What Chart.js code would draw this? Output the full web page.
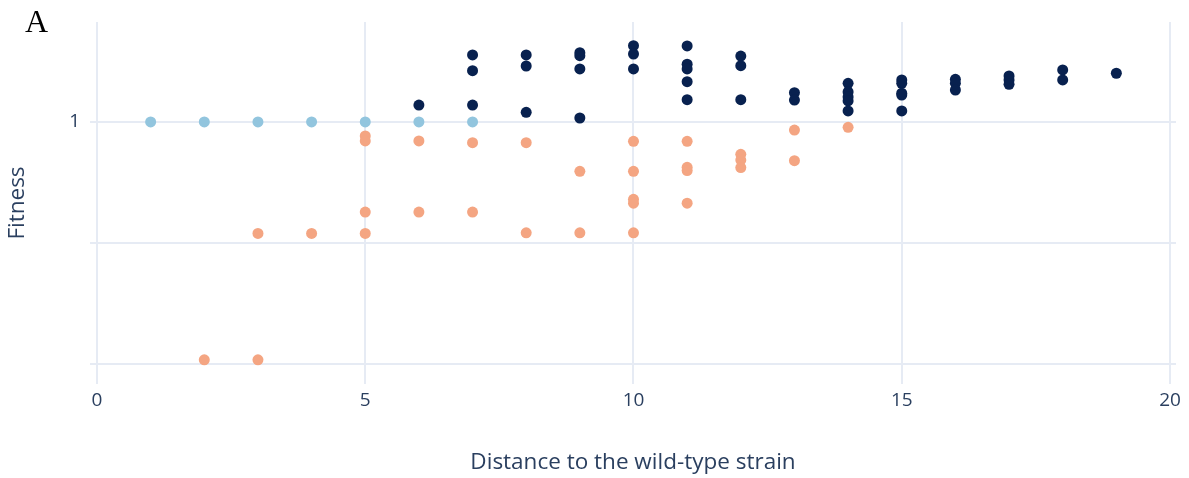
<!DOCTYPE html>
<html>
<head>
<meta charset="utf-8">
<script src="https://cdn.jsdelivr.net/npm/chart.js@4"></script>
<style>
  html, body { margin: 0; padding: 0; background: #fff; }
  #wrap { position: relative; width: 1189px; height: 478px; }
  #panel { position: absolute; left: 25px; top: 5px; font: 32px/32px "Liberation Serif", "DejaVu Serif", serif; color: #000; }
</style>
</head>
<body>
<div id="wrap">
  <canvas id="myChart" width="1189" height="478"></canvas>
  <div id="panel">A</div>
</div>
<script>
const xTicks = [0, 5, 10, 15, 20];
const yTicks = [0.25, 0.5, 1];

// fitness = 1
const neutralX = [1, 2, 3, 4, 5, 6, 7];
const neutralY = [1, 1, 1, 1, 1, 1, 1];

// fitness above 1
const aboveX = [6, 7, 7, 7, 8, 8, 8, 9, 9, 9, 9, 10, 10, 10,
  11, 11, 11, 11, 11, 12, 12, 12, 13, 13, 14, 14, 14, 14, 14,
  15, 15, 15, 15, 15, 16, 16, 16, 17, 17, 17, 18, 18, 19];
const aboveY = [1.102, 1.468, 1.342, 1.102, 1.468, 1.378, 1.057, 1.487, 1.462, 1.355, 1.023, 1.548, 1.476, 1.355,
  1.546, 1.392, 1.355, 1.260, 1.136, 1.459, 1.381, 1.136, 1.183, 1.134, 1.248, 1.188, 1.154, 1.128, 1.065,
  1.272, 1.248, 1.179, 1.167, 1.065, 1.277, 1.248, 1.201, 1.302, 1.272, 1.241, 1.347, 1.272, 1.322];

// fitness below 1
const belowX = [2, 3, 3, 4, 5, 5, 5, 5, 6, 6, 7, 7, 8, 8, 9, 9,
  10, 10, 10, 10, 10, 11, 11, 11, 11, 12, 12, 12, 13, 13, 14];
const belowY = [0.256, 0.528, 0.256, 0.528, 0.923, 0.897, 0.597, 0.528, 0.897, 0.597, 0.888, 0.597, 0.888, 0.530, 0.754, 0.530,
  0.895, 0.754, 0.642, 0.628, 0.530, 0.895, 0.771, 0.757, 0.628, 0.831, 0.804, 0.770, 0.955, 0.801, 0.970];

const toPoints = (xs, ys) => xs.map((x, i) => ({ x: x, y: ys[i] }));

const ctx = document.getElementById('myChart');
const textColor = '#2a3f5f';
const gridColor = '#e6ebf4';

new Chart(ctx, {
  type: 'scatter',
  data: {
    datasets: [{
      label: 'neutral',
      data: toPoints(neutralX, neutralY),
      backgroundColor: '#92c5de',
      pointRadius: 5.5,
      borderWidth: 0
    }, {
      label: 'above',
      data: toPoints(aboveX, aboveY),
      backgroundColor: '#08214f',
      pointRadius: 5.5,
      borderWidth: 0
    }, {
      label: 'below',
      data: toPoints(belowX, belowY),
      backgroundColor: '#f4a582',
      pointRadius: 5.5,
      borderWidth: 0
    }]
  },
  options: {
    responsive: false,
    animation: false,
    layout: { padding: { top: 22, right: 13, left: 0, bottom: 0 } },
    plugins: { legend: { display: false }, tooltip: { enabled: false } },
    scales: {
      x: {
        type: 'linear',
        min: -0.1305,
        max: 20.112,
        afterBuildTicks: (scale) => { scale.ticks = xTicks.map(v => ({ value: v })); },
        afterFit: (scale) => { scale.height = 94; },
        grid: { color: gridColor, lineWidth: 2, drawTicks: false },
        border: { display: false },
        ticks: { color: textColor, font: { family: 'Open Sans', size: 19 }, padding: 5 },
        title: {
          display: true,
          text: 'Distance to the wild-type strain',
          color: textColor,
          font: { family: 'Open Sans', size: 22.5 },
          padding: { top: 0, bottom: 1.5 }
        }
      },
      y: {
        type: 'logarithmic',
        min: 0.2229,
        max: 1.7731,
        afterBuildTicks: (scale) => { scale.ticks = yTicks.map(v => ({ value: v })); },
        afterFit: (scale) => { scale.width = 90; },
        grid: { color: gridColor, lineWidth: 2, drawTicks: false },
        border: { display: false },
        ticks: {
          color: textColor,
          font: { family: 'Open Sans', size: 19 },
          padding: 10,
          callback: (v) => (v === 1 ? '1' : '')
        },
        title: {
          display: true,
          text: 'Fitness',
          color: textColor,
          font: { family: 'Open Sans', size: 22.5 },
          padding: { top: 4.5, bottom: 0 }
        }
      }
    }
  }
});
</script>
</body>
</html>
